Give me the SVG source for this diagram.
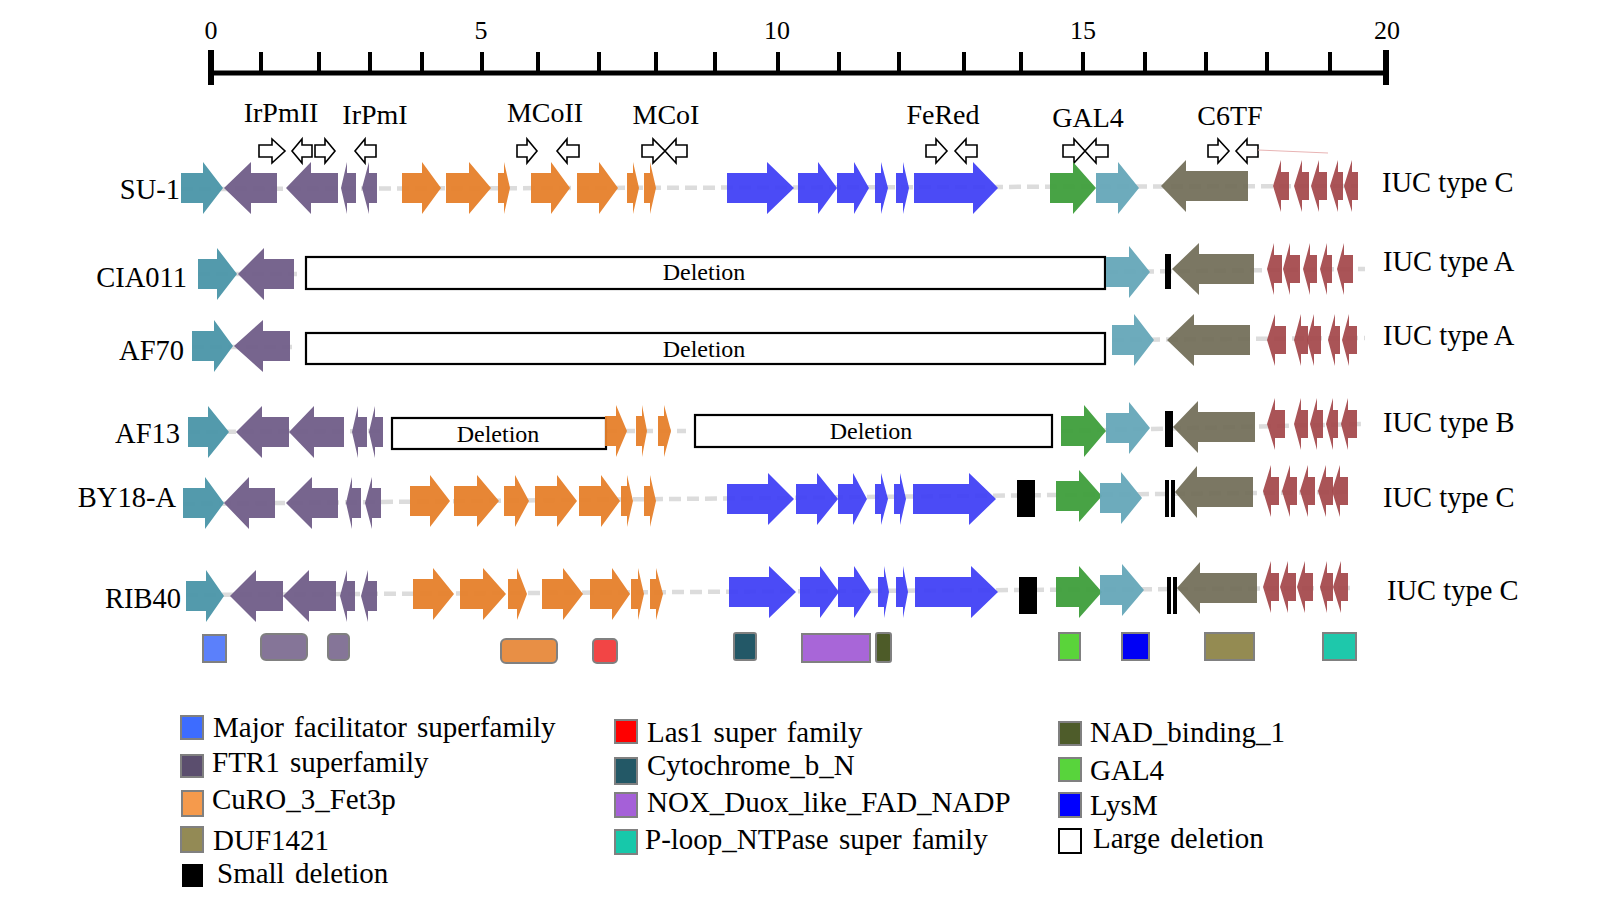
<svg xmlns="http://www.w3.org/2000/svg" width="1617" height="909" viewBox="0 0 1617 909">
<style>
text{font-family:"Liberation Serif","Times New Roman",serif;fill:#000}
.ax{font-size:26px;text-anchor:middle}
.gl{font-size:28px;text-anchor:middle}
.rl{font-size:28.5px;text-anchor:end}
.tl{font-size:28.5px}
.dl{font-size:24px;text-anchor:middle}
.lg{font-size:29px;word-spacing:3px}
.teal{fill:#4a95a8;fill-opacity:.95}
.pur{fill:#705d88;fill-opacity:.95}
.org{fill:#e67f2a;fill-opacity:.95}
.blu{fill:#4040f5;fill-opacity:.94}
.grn{fill:#3e9e3b;fill-opacity:.95}
.lt{fill:#65a6b8;fill-opacity:.95}
.olv{fill:#716d57;fill-opacity:.93}
.red{fill:#a4474a;fill-opacity:.93}
.ol{fill:#fff;stroke:#000;stroke-width:1.6}
.del{fill:#fff;stroke:#000;stroke-width:2.2}
.sd{fill:#000}
.dom{stroke:#808080;stroke-width:2}
.bb{stroke:#dcdcdc;stroke-width:4.5;stroke-dasharray:12 6;fill:none}
</style>

<g id="scale">
<line x1="209" y1="73" x2="1388" y2="73" stroke="#000" stroke-width="5"/>
<g stroke="#000" stroke-width="6">
<line x1="211" y1="50" x2="211" y2="85"/>
<line x1="1386" y1="50" x2="1386" y2="85"/>
</g>
<g stroke="#000" stroke-width="4">
<line x1="261" y1="52" x2="261" y2="73"/><line x1="319" y1="52" x2="319" y2="73"/><line x1="370" y1="52" x2="370" y2="73"/><line x1="422" y1="52" x2="422" y2="73"/><line x1="482" y1="52" x2="482" y2="73"/>
<line x1="538" y1="52" x2="538" y2="73"/><line x1="599" y1="52" x2="599" y2="73"/><line x1="656" y1="52" x2="656" y2="73"/><line x1="715" y1="52" x2="715" y2="73"/><line x1="778" y1="52" x2="778" y2="73"/>
<line x1="839" y1="52" x2="839" y2="73"/><line x1="899" y1="52" x2="899" y2="73"/><line x1="964" y1="52" x2="964" y2="73"/><line x1="1021" y1="52" x2="1021" y2="73"/><line x1="1083" y1="52" x2="1083" y2="73"/>
<line x1="1145" y1="52" x2="1145" y2="73"/><line x1="1206" y1="52" x2="1206" y2="73"/><line x1="1267" y1="52" x2="1267" y2="73"/><line x1="1330" y1="52" x2="1330" y2="73"/>
</g>
<text class="ax" x="211" y="39">0</text>
<text class="ax" x="481" y="39">5</text>
<text class="ax" x="777" y="39">10</text>
<text class="ax" x="1083" y="39">15</text>
<text class="ax" x="1387" y="39">20</text>
</g>

<g id="gene-labels">
<text class="gl" x="281" y="122">IrPmII</text>
<text class="gl" x="375" y="124">IrPmI</text>
<text class="gl" x="545" y="122">MCoII</text>
<text class="gl" x="666" y="124">MCoI</text>
<text class="gl" x="943" y="124">FeRed</text>
<text class="gl" x="1088" y="127">GAL4</text>
<text class="gl" x="1230" y="125">C6TF</text>
</g>

<g id="orientation-arrows" transform="translate(0,151)">
<polygon class="ol" points="259,-6 272,-6 272,-12 285,0 272,12 272,6 259,6"/>
<polygon class="ol" points="312,-6 302,-6 302,-12 292,0 302,12 302,6 312,6"/>
<polygon class="ol" points="315,-6 325,-6 325,-12 335,0 325,12 325,6 315,6"/>
<polygon class="ol" points="376,-6 365,-6 365,-12 355,0 365,12 365,6 376,6"/>
<polygon class="ol" points="517,-6 527,-6 527,-12 537,0 527,12 527,6 517,6"/>
<polygon class="ol" points="579,-6 567,-6 567,-12 557,0 567,12 567,6 579,6"/>
<polygon class="ol" points="642,-6 653,-6 653,-12 665,0 653,12 653,6 642,6"/>
<polygon class="ol" points="687,-6 676,-6 676,-12 665,0 676,12 676,6 687,6"/>
<polygon class="ol" points="926,-6 936,-6 936,-12 947,0 936,12 936,6 926,6"/>
<polygon class="ol" points="977,-6 966,-6 966,-12 955,0 966,12 966,6 977,6"/>
<polygon class="ol" points="1063,-6 1074,-6 1074,-12 1085,0 1074,12 1074,6 1063,6"/>
<polygon class="ol" points="1108,-6 1096,-6 1096,-12 1085,0 1096,12 1096,6 1108,6"/>
<polygon class="ol" points="1208,-6 1218,-6 1218,-12 1229,0 1218,12 1218,6 1208,6"/>
<polygon class="ol" points="1258,-6 1247,-6 1247,-12 1236,0 1247,12 1247,6 1258,6"/>
</g>
<line x1="1258" y1="150" x2="1328" y2="153" stroke="#e8b4b4" stroke-width="1"/>

<g id="connectors">
<line class="bb" x1="181" y1="189" x2="1358" y2="186"/>
<line class="bb" x1="198" y1="274" x2="297" y2="274"/>
<line class="bb" x1="1106" y1="272" x2="1365" y2="269"/>
<line class="bb" x1="192" y1="347" x2="292" y2="347"/>
<line class="bb" x1="1112" y1="340" x2="1365" y2="338"/>
<line class="bb" x1="188" y1="432" x2="385" y2="431"/>
<line class="bb" x1="605" y1="431" x2="686" y2="431"/>
<line class="bb" x1="1061" y1="431" x2="1365" y2="424"/>
<line class="bb" x1="183" y1="504" x2="1350" y2="492"/>
<line class="bb" x1="186" y1="595" x2="1355" y2="588"/>
</g>

<g id="row-SU-1">
<text class="rl" x="180" y="199">SU-1</text>
<g transform="translate(0,188)">
<polygon class="teal" points="181,-15 203,-15 203,-26 223,0 203,26 203,15 181,15"/>
<polygon class="pur" points="277,-15 251,-15 251,-26 224,0 251,26 251,15 277,15"/>
<polygon class="pur" points="338,-15 311,-15 311,-26 286,0 311,26 311,15 338,15"/>
<polygon class="pur" points="356,-15 347,-15 347,-26 341,0 347,26 347,15 356,15"/>
<polygon class="pur" points="377,-15 369,-15 369,-26 362,0 369,26 369,15 377,15"/>
<polygon class="org" points="402,-15 422,-15 422,-26 441,0 422,26 422,15 402,15"/>
<polygon class="org" points="446,-15 469,-15 469,-26 491,0 469,26 469,15 446,15"/>
<polygon class="org" points="498,-15 504,-15 504,-26 510,0 504,26 504,15 498,15"/>
<polygon class="org" points="531,-15 551,-15 551,-26 570,0 551,26 551,15 531,15"/>
<polygon class="org" points="577,-15 599,-15 599,-26 618,0 599,26 599,15 577,15"/>
<polygon class="org" points="627,-15 633,-15 633,-26 639,0 633,26 633,15 627,15"/>
<polygon class="org" points="644,-15 650,-15 650,-26 656,0 650,26 650,15 644,15"/>
<polygon class="blu" points="727,-15 767,-15 767,-26 794,0 767,26 767,15 727,15"/>
<polygon class="blu" points="798,-15 818,-15 818,-26 837,0 818,26 818,15 798,15"/>
<polygon class="blu" points="837,-15 854,-15 854,-26 869,0 854,26 854,15 837,15"/>
<polygon class="blu" points="875,-15 881,-15 881,-26 888,0 881,26 881,15 875,15"/>
<polygon class="blu" points="896,-15 903,-15 903,-26 909,0 903,26 903,15 896,15"/>
<polygon class="blu" points="914,-15 973,-15 973,-26 998,0 973,26 973,15 914,15"/>
<polygon class="grn" points="1050,-15 1073,-15 1073,-26 1096,0 1073,26 1073,15 1050,15"/>
<polygon class="lt" points="1096,-15 1118,-15 1118,-26 1139,0 1118,26 1118,15 1096,15"/>
</g>
<g transform="translate(0,186)">
<polygon class="olv" points="1248,-15 1186,-15 1186,-26 1161,0 1186,26 1186,15 1248,15"/>
<polygon class="red" points="1289,-14 1281,-14 1281,-26 1273,0 1281,26 1281,14 1289,14"/>
<polygon class="red" points="1309,-14 1302,-14 1302,-26 1294,0 1302,26 1302,14 1309,14"/>
<polygon class="red" points="1327,-14 1319,-14 1319,-26 1311,0 1319,26 1319,14 1327,14"/>
<polygon class="red" points="1343,-14 1338,-14 1338,-26 1330,0 1338,26 1338,14 1343,14"/>
<polygon class="red" points="1358,-14 1352,-14 1352,-26 1344,0 1352,26 1352,14 1358,14"/>
</g>
<text class="tl" x="1382" y="192">IUC type C</text>
</g>

<g id="row-CIA011">
<text class="rl" x="187" y="287">CIA011</text>
<g transform="translate(0,274)">
<polygon class="teal" points="198,-15 217,-15 217,-26 237,0 217,26 217,15 198,15"/>
<polygon class="pur" points="294,-15 264,-15 264,-26 238,0 264,26 264,15 294,15"/>
</g>
<rect class="del" x="306" y="257" width="799" height="32"/>
<text class="dl" x="704" y="280">Deletion</text>
<polygon class="lt" transform="translate(0,272)" points="1106,-15 1129,-15 1129,-26 1150,0 1129,26 1129,15 1106,15"/>
<rect class="sd" x="1165" y="254" width="6" height="35"/>
<g transform="translate(0,269)">
<polygon class="olv" points="1254,-15 1199,-15 1199,-26 1172,0 1199,26 1199,15 1254,15"/>
<polygon class="red" points="1282,-14 1274,-14 1274,-26 1267,0 1274,26 1274,14 1282,14"/>
<polygon class="red" points="1300,-14 1290,-14 1290,-26 1283,0 1290,26 1290,14 1300,14"/>
<polygon class="red" points="1317,-14 1310,-14 1310,-26 1303,0 1310,26 1310,14 1317,14"/>
<polygon class="red" points="1332,-14 1327,-14 1327,-26 1320,0 1327,26 1327,14 1332,14"/>
<polygon class="red" points="1353,-14 1344,-14 1344,-26 1337,0 1344,26 1344,14 1353,14"/>
</g>
<text class="tl" x="1383" y="271">IUC type A</text>
</g>

<g id="row-AF70">
<text class="rl" x="184" y="360">AF70</text>
<g transform="translate(0,346)">
<polygon class="teal" points="192,-15 214,-15 214,-26 233,0 214,26 214,15 192,15"/>
<polygon class="pur" points="290,-15 263,-15 263,-26 234,0 263,26 263,15 290,15"/>
</g>
<rect class="del" x="306" y="333" width="799" height="31"/>
<text class="dl" x="704" y="357">Deletion</text>
<g transform="translate(0,340)">
<polygon class="lt" points="1112,-15 1134,-15 1134,-26 1154,0 1134,26 1134,15 1112,15"/>
<polygon class="olv" points="1250,-15 1194,-15 1194,-26 1167,0 1194,26 1194,15 1250,15"/>
<polygon class="red" points="1286,-14 1275,-14 1275,-26 1267,0 1275,26 1275,14 1286,14"/>
<polygon class="red" points="1308,-14 1301,-14 1301,-26 1294,0 1301,26 1301,14 1308,14"/>
<polygon class="red" points="1321,-14 1314,-14 1314,-26 1307,0 1314,26 1314,14 1321,14"/>
<polygon class="red" points="1340,-14 1335,-14 1335,-26 1328,0 1335,26 1335,14 1340,14"/>
<polygon class="red" points="1357,-14 1349,-14 1349,-26 1342,0 1349,26 1349,14 1357,14"/>
</g>
<text class="tl" x="1383" y="345">IUC type A</text>
</g>

<g id="row-AF13">
<text class="rl" x="180" y="443">AF13</text>
<g transform="translate(0,432)">
<polygon class="teal" points="188,-15 208,-15 208,-26 229,0 208,26 208,15 188,15"/>
<polygon class="pur" points="289,-15 262,-15 262,-26 236,0 262,26 262,15 289,15"/>
<polygon class="pur" points="344,-15 314,-15 314,-26 289,0 314,26 314,15 344,15"/>
<polygon class="pur" points="367,-15 358,-15 358,-26 352,0 358,26 358,15 367,15"/>
<polygon class="pur" points="383,-15 375,-15 375,-26 369,0 375,26 375,15 383,15"/>
</g>
<rect class="del" x="392" y="418" width="214" height="31"/>
<text class="dl" x="498" y="442">Deletion</text>
<g transform="translate(0,431)">
<polygon class="org" points="605,-15 616,-15 616,-26 627,0 616,26 616,15 605,15"/>
<polygon class="org" points="636,-15 642,-15 642,-26 647,0 642,26 642,15 636,15"/>
<polygon class="org" points="658,-15 664,-15 664,-26 671,0 664,26 664,15 658,15"/>
<polygon class="grn" points="1061,-15 1084,-15 1084,-26 1106,0 1084,26 1084,15 1061,15"/>
</g>
<rect class="del" x="695" y="415" width="357" height="32"/>
<text class="dl" x="871" y="439">Deletion</text>
<polygon class="lt" transform="translate(0,428)" points="1106,-15 1129,-15 1129,-26 1150,0 1129,26 1129,15 1106,15"/>
<rect class="sd" x="1165" y="411" width="8" height="36"/>
<polygon class="olv" transform="translate(0,427)" points="1255,-15 1198,-15 1198,-26 1173,0 1198,26 1198,15 1255,15"/>
<g transform="translate(0,424)">
<polygon class="red" points="1285,-14 1275,-14 1275,-26 1267,0 1275,26 1275,14 1285,14"/>
<polygon class="red" points="1308,-14 1301,-14 1301,-26 1294,0 1301,26 1301,14 1308,14"/>
<polygon class="red" points="1323,-14 1317,-14 1317,-26 1310,0 1317,26 1317,14 1323,14"/>
<polygon class="red" points="1338,-14 1333,-14 1333,-26 1326,0 1333,26 1333,14 1338,14"/>
<polygon class="red" points="1357,-14 1348,-14 1348,-26 1341,0 1348,26 1348,14 1357,14"/>
</g>
<text class="tl" x="1383" y="432">IUC type B</text>
</g>

<g id="row-BY18-A">
<text class="rl" x="176" y="507">BY18-A</text>
<g transform="translate(0,503)">
<polygon class="teal" points="183,-15 205,-15 205,-26 224,0 205,26 205,15 183,15"/>
<polygon class="pur" points="275,-15 249,-15 249,-26 224,0 249,26 249,15 275,15"/>
<polygon class="pur" points="338,-15 312,-15 312,-26 286,0 312,26 312,15 338,15"/>
<polygon class="pur" points="361,-15 352,-15 352,-26 346,0 352,26 352,15 361,15"/>
<polygon class="pur" points="381,-15 372,-15 372,-26 365,0 372,26 372,15 381,15"/>
</g>
<g transform="translate(0,501)">
<polygon class="org" points="410,-15 430,-15 430,-26 450,0 430,26 430,15 410,15"/>
<polygon class="org" points="454,-15 477,-15 477,-26 499,0 477,26 477,15 454,15"/>
<polygon class="org" points="504,-15 515,-15 515,-26 529,0 515,26 515,15 504,15"/>
<polygon class="org" points="535,-15 557,-15 557,-26 577,0 557,26 557,15 535,15"/>
<polygon class="org" points="579,-15 601,-15 601,-26 620,0 601,26 601,15 579,15"/>
<polygon class="org" points="621,-15 627,-15 627,-26 633,0 627,26 627,15 621,15"/>
<polygon class="org" points="644,-15 650,-15 650,-26 656,0 650,26 650,15 644,15"/>
</g>
<g transform="translate(0,499)">
<polygon class="blu" points="727,-15 768,-15 768,-26 794,0 768,26 768,15 727,15"/>
<polygon class="blu" points="796,-15 817,-15 817,-26 838,0 817,26 817,15 796,15"/>
<polygon class="blu" points="838,-15 853,-15 853,-26 867,0 853,26 853,15 838,15"/>
<polygon class="blu" points="875,-15 881,-15 881,-26 888,0 881,26 881,15 875,15"/>
<polygon class="blu" points="894,-15 900,-15 900,-26 906,0 900,26 900,15 894,15"/>
<polygon class="blu" points="913,-15 969,-15 969,-26 996,0 969,26 969,15 913,15"/>
</g>
<rect class="sd" x="1017" y="480" width="18" height="37"/>
<polygon class="grn" transform="translate(0,496)" points="1056,-15 1079,-15 1079,-26 1102,0 1079,26 1079,15 1056,15"/>
<polygon class="lt" transform="translate(0,498)" points="1100,-15 1121,-15 1121,-26 1142,0 1121,26 1121,15 1100,15"/>
<rect class="sd" x="1165" y="480" width="4" height="37"/>
<rect class="sd" x="1171" y="480" width="4" height="37"/>
<polygon class="olv" transform="translate(0,492)" points="1253,-15 1197,-15 1197,-26 1175,0 1197,26 1197,15 1253,15"/>
<g transform="translate(0,491)">
<polygon class="red" points="1279,-14 1271,-14 1271,-26 1263,0 1271,26 1271,14 1279,14"/>
<polygon class="red" points="1297,-14 1290,-14 1290,-26 1282,0 1290,26 1290,14 1297,14"/>
<polygon class="red" points="1315,-14 1308,-14 1308,-26 1300,0 1308,26 1308,14 1315,14"/>
<polygon class="red" points="1333,-14 1326,-14 1326,-26 1318,0 1326,26 1326,14 1333,14"/>
<polygon class="red" points="1348,-14 1340,-14 1340,-26 1332,0 1340,26 1340,14 1348,14"/>
</g>
<text class="tl" x="1383" y="507">IUC type C</text>
</g>

<g id="row-RIB40">
<text class="rl" x="181" y="608">RIB40</text>
<g transform="translate(0,596)">
<polygon class="teal" points="186,-15 206,-15 206,-26 224,0 206,26 206,15 186,15"/>
<polygon class="pur" points="283,-15 256,-15 256,-26 230,0 256,26 256,15 283,15"/>
<polygon class="pur" points="336,-15 309,-15 309,-26 283,0 309,26 309,15 336,15"/>
<polygon class="pur" points="355,-15 347,-15 347,-26 340,0 347,26 347,15 355,15"/>
<polygon class="pur" points="377,-15 368,-15 368,-26 361,0 368,26 368,15 377,15"/>
</g>
<g transform="translate(0,594)">
<polygon class="org" points="413,-15 433,-15 433,-26 454,0 433,26 433,15 413,15"/>
<polygon class="org" points="460,-15 483,-15 483,-26 506,0 483,26 483,15 460,15"/>
<polygon class="org" points="508,-15 517,-15 517,-26 527,0 517,26 517,15 508,15"/>
<polygon class="org" points="542,-15 563,-15 563,-26 583,0 563,26 563,15 542,15"/>
<polygon class="org" points="590,-15 612,-15 612,-26 630,0 612,26 612,15 590,15"/>
<polygon class="org" points="631,-15 638,-15 638,-26 644,0 638,26 638,15 631,15"/>
<polygon class="org" points="650,-15 656,-15 656,-26 663,0 656,26 656,15 650,15"/>
</g>
<g transform="translate(0,592)">
<polygon class="blu" points="729,-15 769,-15 769,-26 796,0 769,26 769,15 729,15"/>
<polygon class="blu" points="800,-15 820,-15 820,-26 839,0 820,26 820,15 800,15"/>
<polygon class="blu" points="838,-15 854,-15 854,-26 871,0 854,26 854,15 838,15"/>
<polygon class="blu" points="878,-15 884,-15 884,-26 889,0 884,26 884,15 878,15"/>
<polygon class="blu" points="896,-15 903,-15 903,-26 908,0 903,26 903,15 896,15"/>
<polygon class="blu" points="915,-15 971,-15 971,-26 998,0 971,26 971,15 915,15"/>
<polygon class="grn" points="1056,-15 1079,-15 1079,-26 1102,0 1079,26 1079,15 1056,15"/>
</g>
<rect class="sd" x="1019" y="577" width="18" height="37"/>
<polygon class="lt" transform="translate(0,590)" points="1100,-15 1122,-15 1122,-26 1144,0 1122,26 1122,15 1100,15"/>
<rect class="sd" x="1167" y="577" width="4" height="37"/>
<rect class="sd" x="1173" y="577" width="4" height="37"/>
<polygon class="olv" transform="translate(0,588)" points="1257,-15 1200,-15 1200,-26 1177,0 1200,26 1200,15 1257,15"/>
<g transform="translate(0,587)">
<polygon class="red" points="1279,-14 1271,-14 1271,-26 1263,0 1271,26 1271,14 1279,14"/>
<polygon class="red" points="1296,-14 1288,-14 1288,-26 1280,0 1288,26 1288,14 1296,14"/>
<polygon class="red" points="1313,-14 1305,-14 1305,-26 1297,0 1305,26 1305,14 1313,14"/>
<polygon class="red" points="1333,-14 1327,-14 1327,-26 1320,0 1327,26 1327,14 1333,14"/>
<polygon class="red" points="1348,-14 1341,-14 1341,-26 1333,0 1341,26 1341,14 1348,14"/>
</g>
<text class="tl" x="1387" y="600">IUC type C</text>
</g>

<g id="domains">
<rect class="dom" x="203" y="635" width="23" height="27" fill="#5b80fb"/>
<rect class="dom" x="261" y="634" width="46" height="26" rx="5" fill="#857598"/>
<rect class="dom" x="328" y="634" width="21" height="26" rx="4" fill="#857598"/>
<rect class="dom" x="501" y="639" width="56" height="24" rx="5" fill="#e88f45"/>
<rect class="dom" x="593" y="639" width="24" height="24" rx="4" fill="#f24545"/>
<rect class="dom" x="734" y="633" width="22" height="27" rx="2" fill="#235867"/>
<rect class="dom" x="802" y="634" width="68" height="28" fill="#a866d8"/>
<rect class="dom" x="876" y="633" width="15" height="29" rx="2" fill="#4d5b28"/>
<rect class="dom" x="1059" y="633" width="21" height="27" fill="#5ad43a"/>
<rect class="dom" x="1122" y="633" width="27" height="27" fill="#0000f5"/>
<rect class="dom" x="1205" y="633" width="49" height="27" fill="#948b52"/>
<rect class="dom" x="1323" y="633" width="33" height="27" fill="#1ec8ab"/>
</g>

<g id="legend">
<rect class="dom" x="181" y="716" width="22" height="23" fill="#3d6cff"/>
<text class="lg" x="213" y="737">Major facilitator superfamily</text>
<rect class="dom" x="181" y="755" width="22" height="22" fill="#5b4e6e"/>
<text class="lg" x="212" y="772">FTR1 superfamily</text>
<rect class="dom" x="182" y="791" width="21" height="25" fill="#f59a4c"/>
<text class="lg" x="212" y="809">CuRO_3_Fet3p</text>
<rect class="dom" x="181" y="827" width="22" height="25" fill="#938a55"/>
<text class="lg" x="213" y="850">DUF1421</text>
<rect x="182" y="864" width="21" height="23" fill="#000"/>
<text class="lg" x="217" y="883">Small deletion</text>

<rect class="dom" x="615" y="720" width="22" height="23" fill="#ff0000"/>
<text class="lg" x="647" y="742">Las1 super family</text>
<rect class="dom" x="615" y="758" width="22" height="26" fill="#235866"/>
<text class="lg" x="647" y="775">Cytochrome_b_N</text>
<rect class="dom" x="615" y="793" width="22" height="24" fill="#a560d8"/>
<text class="lg" x="647" y="812">NOX_Duox_like_FAD_NADP</text>
<rect class="dom" x="615" y="830" width="22" height="24" fill="#17c8aa"/>
<text class="lg" x="645" y="849">P-loop_NTPase super family</text>

<rect class="dom" x="1059" y="722" width="22" height="23" fill="#4e5c2a"/>
<text class="lg" x="1090" y="742">NAD_binding_1</text>
<rect class="dom" x="1059" y="758" width="22" height="23" fill="#58d43c"/>
<text class="lg" x="1090" y="780">GAL4</text>
<rect class="dom" x="1059" y="793" width="22" height="24" fill="#0000ff"/>
<text class="lg" x="1090" y="815">LysM</text>
<rect x="1059" y="829" width="22" height="24" fill="#fff" stroke="#000" stroke-width="2"/>
<text class="lg" x="1093" y="848">Large deletion</text>
</g>
</svg>
